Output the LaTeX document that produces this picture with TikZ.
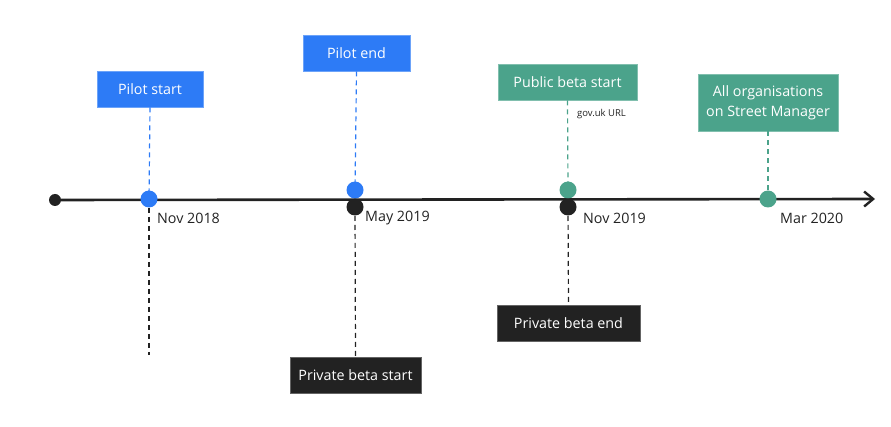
\documentclass[tikz,border=0pt]{standalone}
\usepackage{fontspec}
\setmainfont{Open Sans}
\usetikzlibrary{arrows.meta}
\definecolor{cblue}{HTML}{2D7BF6}
\definecolor{cgreen}{HTML}{4BA38B}
\definecolor{cdark}{HTML}{222222}
\tikzset{
  box/.style={fill=#1, draw=#1!70!white, line width=0.6pt, text=white, font=\fontsize{14.3}{20}\selectfont, align=center, inner sep=0pt},
  dot/.style={circle, fill=#1, inner sep=0pt, minimum size=17pt},
  conn/.style={draw=#1, line width=1.2pt, dash pattern=on 5pt off 4pt},
  datelbl/.style={font=\fontsize{14.3}{16}\selectfont, text=cdark, anchor=west, inner sep=0pt}
}
\begin{document}
\begin{tikzpicture}[x=1pt,y=-1pt]
\useasboundingbox (0,0) rectangle (891,427);
% boxes
\node[box=cblue, minimum width=106pt, minimum height=36pt] (pstart) at (150,89) {Pilot start};
\node[box=cblue, minimum width=107pt, minimum height=36pt] (pend) at (356.5,53) {Pilot end};
\node[box=cgreen, minimum width=139pt, minimum height=36pt] (pubstart) at (567.5,82) {Public beta start};
\node[box=cgreen, minimum width=140pt, minimum height=57pt] (allorg) at (768,102.5) {All organisations\\on Street Manager};
\node[box=cdark, minimum width=131pt, minimum height=36pt] (privstart) at (355.5,375) {Private beta start};
\node[box=cdark, minimum width=143pt, minimum height=36pt] (privend) at (568.5,323) {Private beta end};
% dot positions
\coordinate (d1) at (149,199);
\coordinate (d2u) at (355,190);
\coordinate (d2d) at (355,207);
\coordinate (d3u) at (568,190);
\coordinate (d3d) at (568,207);
\coordinate (d4) at (768,199);
\coordinate (low1) at (149,355);
% connectors
\draw[conn=cblue] (pstart.south) -- (d1);
\draw[conn=cdark] (d1) -- (low1);
\draw[conn=cblue] (pend.south) -- (d2u);
\draw[conn=cdark] (d2d) -- (privstart.north);
\draw[conn=cgreen] (pubstart.south) -- (d3u);
\draw[conn=cdark] (d3d) -- (privend.north);
\draw[conn=cgreen] (allorg.south) -- (d4);
% axis
\node[circle, fill=cdark, inner sep=0pt, minimum size=12pt] (start) at (55,200) {};
\coordinate (axend) at (875,199);
\draw[cdark, line width=2.6pt, -{Straight Barb[length=9pt,width=15pt,line width=2.4pt]}] (start.center) -- (axend);
% dots
\node[dot=cblue] (n1) at (d1) {};
\node[dot=cblue] (n2u) at (d2u) {};
\node[dot=cdark] (n2d) at (d2d) {};
\node[dot=cgreen] (n3u) at (d3u) {};
\node[dot=cdark] (n3d) at (d3d) {};
\node[dot=cgreen] (n4) at (d4) {};
% labels
\node[datelbl] (l1) at (157,218) {Nov 2018};
\node[datelbl] (l2) at (365,218) {May 2019};
\node[datelbl] (l3) at (583,218) {Nov 2019};
\node[datelbl] (l4) at (780,218) {Mar 2020};
\node[font=\fontsize{9.5}{11}\selectfont, text=cdark, anchor=west, inner sep=0pt] (gov) at (577,114) {gov.uk URL};
\end{tikzpicture}
\end{document}
